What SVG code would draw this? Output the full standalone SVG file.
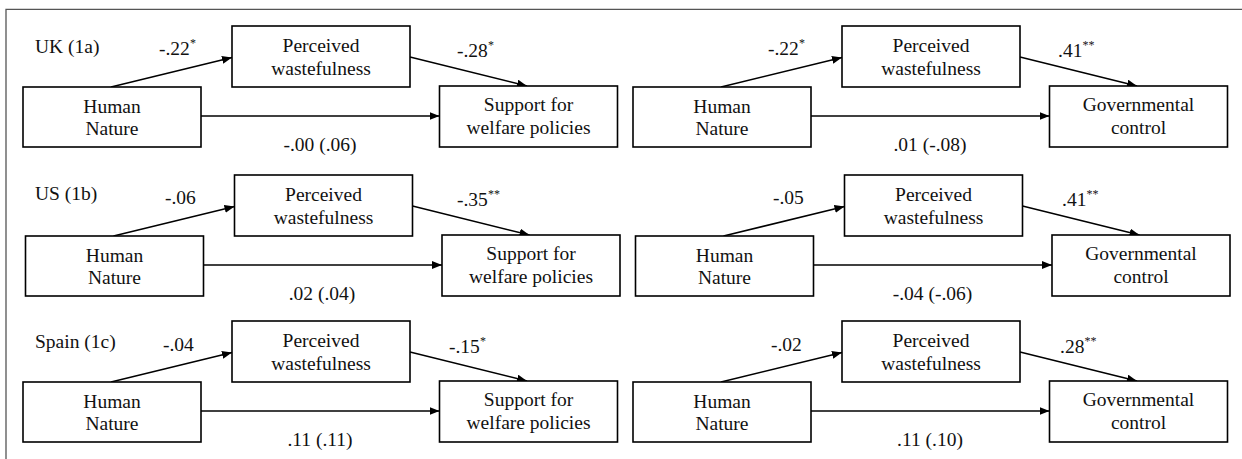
<svg xmlns="http://www.w3.org/2000/svg" width="1242" height="459" viewBox="0 0 1242 459" font-family="'Liberation Serif', 'Times New Roman', Times, serif">
<style>
.box{fill:#fff;stroke:#000;stroke-width:1.6}
.t{font-family:'Liberation Serif','Times New Roman',Times,serif;font-size:19.5px;fill:#111}
.m{text-anchor:middle}
.sup{font-size:12px}
.con{fill:none;stroke:#000;stroke-width:1.5}
.frame{fill:none;stroke:#555;stroke-width:1.3}
</style>
<defs>
<marker id="ah" markerUnits="userSpaceOnUse" markerWidth="11" markerHeight="9" refX="10" refY="4" orient="auto">
<path d="M0,0 L10,4 L0,8 z" fill="#000"/>
</marker>
</defs>
<rect width="1242" height="459" fill="#fff"/>
<path class="frame" d="M6,459 L6,9.3 L1242,9.3"/>

<g id="connectors">
<path class="con" marker-end="url(#ah)" d="M111,87 L232,57.5"/>
<path class="con" marker-end="url(#ah)" d="M410,57 L527,86"/>
<path class="con" marker-end="url(#ah)" d="M201,116 L439.5,116"/>
<path class="con" marker-end="url(#ah)" d="M721,87 L842,57.5"/>
<path class="con" marker-end="url(#ah)" d="M1020,57 L1137,86"/>
<path class="con" marker-end="url(#ah)" d="M811,116 L1049.5,116"/>
<path class="con" marker-end="url(#ah)" d="M113.5,236 L234.5,206.5"/>
<path class="con" marker-end="url(#ah)" d="M412.5,206 L529.5,235"/>
<path class="con" marker-end="url(#ah)" d="M203.5,265 L442,265"/>
<path class="con" marker-end="url(#ah)" d="M723.5,236 L844.5,206.5"/>
<path class="con" marker-end="url(#ah)" d="M1022.5,206 L1139.5,235"/>
<path class="con" marker-end="url(#ah)" d="M813.5,265 L1052,265"/>
<path class="con" marker-end="url(#ah)" d="M111,382 L232,352.5"/>
<path class="con" marker-end="url(#ah)" d="M410,352 L527,381"/>
<path class="con" marker-end="url(#ah)" d="M201,411 L439.5,411"/>
<path class="con" marker-end="url(#ah)" d="M721,382 L842,352.5"/>
<path class="con" marker-end="url(#ah)" d="M1020,352 L1137,381"/>
<path class="con" marker-end="url(#ah)" d="M811,411 L1049.5,411"/>
</g>

<!-- Row 1 left -->
<g id="p1-perceived" transform="translate(0,0)"><rect class="box" x="232" y="26" width="178" height="61"/><text class="t m" x="321" y="51.5">Perceived</text><text class="t m" x="321" y="75">wastefulness</text></g>
<g id="p1-human" transform="translate(0,0)"><rect class="box" x="23" y="87" width="178" height="60"/><text class="t m" x="112" y="112.5">Human</text><text class="t m" x="112" y="135">Nature</text></g>
<g id="p1-support" transform="translate(0,0)"><rect class="box" x="439.5" y="86" width="178" height="61"/><text class="t m" x="528.5" y="111">Support for</text><text class="t m" x="528.5" y="134">welfare policies</text></g>
<!-- Row 1 right -->
<g id="p2-perceived" transform="translate(610,0)"><rect class="box" x="232" y="26" width="178" height="61"/><text class="t m" x="321" y="51.5">Perceived</text><text class="t m" x="321" y="75">wastefulness</text></g>
<g id="p2-human" transform="translate(610,0)"><rect class="box" x="23" y="87" width="178" height="60"/><text class="t m" x="112" y="112.5">Human</text><text class="t m" x="112" y="135">Nature</text></g>
<g id="p2-control" transform="translate(610,0)"><rect class="box" x="439.5" y="86" width="178" height="61"/><text class="t m" x="528.5" y="111">Governmental</text><text class="t m" x="528.5" y="134">control</text></g>
<!-- Row 2 left -->
<g id="p3-perceived" transform="translate(2.5,149)"><rect class="box" x="232" y="26" width="178" height="61"/><text class="t m" x="321" y="51.5">Perceived</text><text class="t m" x="321" y="75">wastefulness</text></g>
<g id="p3-human" transform="translate(2.5,149)"><rect class="box" x="23" y="87" width="178" height="60"/><text class="t m" x="112" y="112.5">Human</text><text class="t m" x="112" y="135">Nature</text></g>
<g id="p3-support" transform="translate(2.5,149)"><rect class="box" x="439.5" y="86" width="178" height="61"/><text class="t m" x="528.5" y="111">Support for</text><text class="t m" x="528.5" y="134">welfare policies</text></g>
<!-- Row 2 right -->
<g id="p4-perceived" transform="translate(612.5,149)"><rect class="box" x="232" y="26" width="178" height="61"/><text class="t m" x="321" y="51.5">Perceived</text><text class="t m" x="321" y="75">wastefulness</text></g>
<g id="p4-human" transform="translate(612.5,149)"><rect class="box" x="23" y="87" width="178" height="60"/><text class="t m" x="112" y="112.5">Human</text><text class="t m" x="112" y="135">Nature</text></g>
<g id="p4-control" transform="translate(612.5,149)"><rect class="box" x="439.5" y="86" width="178" height="61"/><text class="t m" x="528.5" y="111">Governmental</text><text class="t m" x="528.5" y="134">control</text></g>
<!-- Row 3 left -->
<g id="p5-perceived" transform="translate(0,295)"><rect class="box" x="232" y="26" width="178" height="61"/><text class="t m" x="321" y="51.5">Perceived</text><text class="t m" x="321" y="75">wastefulness</text></g>
<g id="p5-human" transform="translate(0,295)"><rect class="box" x="23" y="87" width="178" height="60"/><text class="t m" x="112" y="112.5">Human</text><text class="t m" x="112" y="135">Nature</text></g>
<g id="p5-support" transform="translate(0,295)"><rect class="box" x="439.5" y="86" width="178" height="61"/><text class="t m" x="528.5" y="111">Support for</text><text class="t m" x="528.5" y="134">welfare policies</text></g>
<!-- Row 3 right -->
<g id="p6-perceived" transform="translate(610,295)"><rect class="box" x="232" y="26" width="178" height="61"/><text class="t m" x="321" y="51.5">Perceived</text><text class="t m" x="321" y="75">wastefulness</text></g>
<g id="p6-human" transform="translate(610,295)"><rect class="box" x="23" y="87" width="178" height="60"/><text class="t m" x="112" y="112.5">Human</text><text class="t m" x="112" y="135">Nature</text></g>
<g id="p6-control" transform="translate(610,295)"><rect class="box" x="439.5" y="86" width="178" height="61"/><text class="t m" x="528.5" y="111">Governmental</text><text class="t m" x="528.5" y="134">control</text></g>

<g id="labels">
<text class="t" x="35" y="53">UK (1a)</text>
<text class="t" x="159" y="55">-.22<tspan class="sup" dy="-8">*</tspan></text>
<text class="t" x="457" y="57">-.28<tspan class="sup" dy="-8">*</tspan></text>
<text class="t m" x="320" y="151">-.00 (.06)</text>
<text class="t" x="768" y="55">-.22<tspan class="sup" dy="-8">*</tspan></text>
<text class="t" x="1058" y="57">.41<tspan class="sup" dy="-8">**</tspan></text>
<text class="t m" x="930" y="151">.01 (-.08)</text>

<text class="t" x="35" y="200">US (1b)</text>
<text class="t" x="165" y="204">-.06</text>
<text class="t" x="457" y="206">-.35<tspan class="sup" dy="-8">**</tspan></text>
<text class="t m" x="322" y="300">.02 (.04)</text>
<text class="t" x="773" y="204">-.05</text>
<text class="t" x="1062" y="206">.41<tspan class="sup" dy="-8">**</tspan></text>
<text class="t m" x="932.5" y="300">-.04 (-.06)</text>

<text class="t" x="35" y="348">Spain (1c)</text>
<text class="t" x="163" y="351">-.04</text>
<text class="t" x="449" y="353">-.15<tspan class="sup" dy="-8">*</tspan></text>
<text class="t m" x="320" y="446">.11 (.11)</text>
<text class="t" x="771" y="351">-.02</text>
<text class="t" x="1060" y="353">.28<tspan class="sup" dy="-8">**</tspan></text>
<text class="t m" x="930" y="446">.11 (.10)</text>
</g>
</svg>
